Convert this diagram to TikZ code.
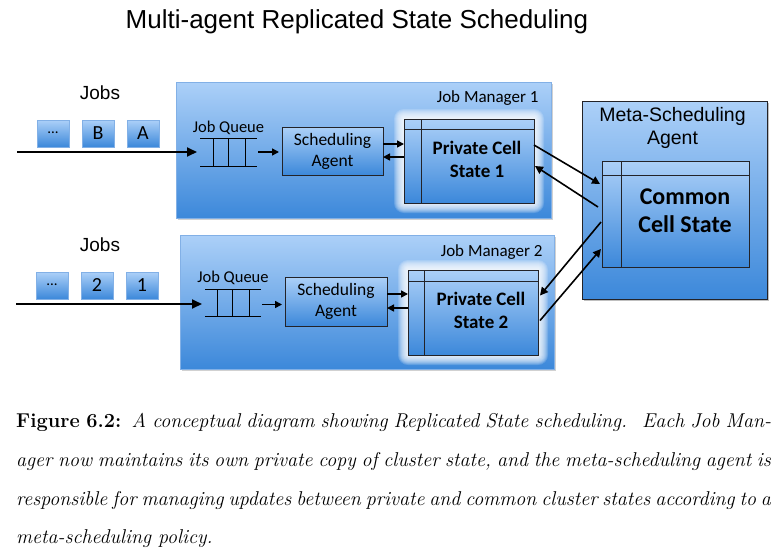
\documentclass[tikz,border=0pt]{standalone}
\usepackage{fontspec}
\newfontfamily\arialf{Liberation Sans}
\newfontfamily\calf{Carlito}
\usetikzlibrary{arrows.meta,calc}
\definecolor{bT}{RGB}{172,208,248}
\definecolor{bB}{RGB}{60,136,218}
\definecolor{jmedge}{RGB}{130,176,230}
\definecolor{dk}{RGB}{35,35,40}
\begin{document}
\begin{tikzpicture}[x=1pt,y=-1pt,
  jmbox/.style={draw=jmedge, line width=0.8pt, top color=bT, bottom color=bB, inner sep=0pt, outer sep=0pt},
  dbox/.style={draw=dk, line width=1pt, top color=bT, bottom color=bB, inner sep=0pt, outer sep=0pt},
  jobbox/.style={draw=jmedge, line width=0.6pt, top color=bT, bottom color=bB, minimum width=32pt, minimum height=27pt, inner sep=0pt, font=\calf\fontsize{20}{20}\selectfont},
  qbox/.style={inner sep=0pt, outer sep=0pt},
  qline/.style={line width=0.9pt, draw=black},
  arr/.style={-{Triangle[length=8pt,width=8pt]}, line width=1.6pt},
  inarr/.style={-{Triangle[length=10pt,width=9pt]}, line width=1.8pt},
  sarr/.style={-{Triangle[length=7pt,width=7pt]}, line width=1.5pt},
  jobslbl/.style={font=\arialf\fontsize{19}{19}\selectfont},
  qlbl/.style={font=\calf\fontsize{16.5}{16.5}\selectfont},
  salbl/.style={align=center, font=\calf\fontsize{17.5}{21}\selectfont},
  jmlbl/.style={anchor=east, font=\calf\fontsize{17}{17}\selectfont},
  pcslbl/.style={align=center, font=\calf\bfseries\fontsize{19}{23}\selectfont},
  captxt/.style={anchor=base west, inner sep=0pt, font=\fontsize{20}{24}\selectfont}
]
\useasboundingbox (0,0) rectangle (774,550);
\fill[white] (0,0) rectangle (774,550);

% title
\node[font=\arialf\fontsize{26}{26}\selectfont] (title) at (357,22) {Multi-agent Replicated State Scheduling};

% shadows of manager boxes
\fill[black, opacity=0.18] (178,84) rectangle (553,220);
\fill[black, opacity=0.18] (182,237) rectangle (556,371);
\fill[black, opacity=0.25] (584,103) rectangle (769,301);

% Job managers
\node[jmbox, minimum width=375pt, minimum height=136pt] (jm1) at (363.5,150) {};
\node[jmbox, minimum width=374pt, minimum height=134pt] (jm2) at (367,302) {};
\node[jmlbl] (jm1l) at ($(jm1.north east)+(-9,16)$) {Job Manager 1};
\node[jmlbl] (jm2l) at ($(jm2.north east)+(-8,17)$) {Job Manager 2};

% Meta-scheduling agent
\node[dbox, line width=0.9pt, minimum width=185pt, minimum height=198pt] (meta) at (674.5,200) {};
\node[align=center, font=\arialf\fontsize{19.5}{23}\selectfont] (metal) at ($(meta.north)+(-2,27)$) {Meta-Scheduling\\Agent};

% glows
\foreach \i in {1,...,10}{
  \fill[white, opacity=0.17, rounded corners=\i pt] (404-\i,119-\i) rectangle (534+\i,203+\i);
  \fill[white, opacity=0.17, rounded corners=\i pt] (408-\i,270-\i) rectangle (538+\i,355+\i);
}

% private cell states
\node[dbox, minimum width=130pt, minimum height=84pt] (pcs1) at (469,161) {};
\draw[dk, line width=1pt] ($(pcs1.north west)+(0,10)$) -- ($(pcs1.north east)+(0,10)$);
\draw[dk, line width=1pt] ($(pcs1.north west)+(17,0)$) -- ($(pcs1.south west)+(17,0)$);
\node[pcslbl] (pcs1l) at (477,159) {Private Cell\\State 1};

\node[dbox, minimum width=130pt, minimum height=85pt] (pcs2) at (473,312.5) {};
\draw[dk, line width=1pt] ($(pcs2.north west)+(0,11)$) -- ($(pcs2.north east)+(0,11)$);
\draw[dk, line width=1pt] ($(pcs2.north west)+(16,0)$) -- ($(pcs2.south west)+(16,0)$);
\node[pcslbl] (pcs2l) at (481,310) {Private Cell\\State 2};

% common cell state
\node[dbox, minimum width=147pt, minimum height=106pt] (ccs) at (675.5,214) {};
\draw[dk, line width=1pt] ($(ccs.north west)+(0,14)$) -- ($(ccs.north east)+(0,14)$);
\draw[dk, line width=1pt] ($(ccs.north west)+(19,0)$) -- ($(ccs.south west)+(19,0)$);
\node[align=center, font=\calf\bfseries\fontsize{24}{28}\selectfont] (ccsl) at (685,211) {Common\\Cell State};

% scheduling agents
\node[dbox, minimum width=101pt, minimum height=48pt] (sa1) at (332.5,151) {};
\node[salbl] (sa1l) at (sa1) {Scheduling\\Agent};
\node[dbox, minimum width=102pt, minimum height=49pt] (sa2) at (336,301.5) {};
\node[salbl] (sa2l) at (sa2) {Scheduling\\Agent};

% queues
\node[qbox, minimum width=57pt, minimum height=28pt] (q1) at (228.5,152) {};
\draw[qline] (q1.north west) -- (q1.north east);
\draw[qline] (q1.south west) -- (q1.south east);
\foreach \o in {13,28,45}{\draw[qline] ($(q1.north west)+(\o,0)$) -- ($(q1.south west)+(\o,0)$);}
\node[qlbl] (q1l) at ($(q1.north)+(0,-10)$) {Job Queue};

\node[qbox, minimum width=56pt, minimum height=27pt] (q2) at (233,302.5) {};
\draw[qline] (q2.north west) -- (q2.north east);
\draw[qline] (q2.south west) -- (q2.south east);
\foreach \o in {12,27,44}{\draw[qline] ($(q2.north west)+(\o,0)$) -- ($(q2.south west)+(\o,0)$);}
\node[qlbl] (q2l) at ($(q2.north)+(0,-11)$) {Job Queue};

% jobs
\node[jobslbl] (jobs1) at (100,93) {Jobs};
\node[jobbox] (j1a) at (53,133.5) {\fontsize{15}{15}\selectfont\raisebox{2pt}{...}};
\node[jobbox] (j1b) at (98,133.5) {B};
\node[jobbox] (j1c) at (143,133.5) {A};
\node[jobslbl] (jobs2) at (100,245) {Jobs};
\node[jobbox] (j2a) at (52,285.5) {\fontsize{15}{15}\selectfont\raisebox{2pt}{...}};
\node[jobbox] (j2b) at (97,285.5) {2};
\node[jobbox] (j2c) at (142,285.5) {1};

% input arrows
\coordinate (in1) at (17,152);
\coordinate (in2) at (16,304);
\draw[inarr, shorten >=3pt] (in1) -- (q1.west |- in1);
\draw[inarr, shorten >=3pt] (in2) -- (q2.west |- in2);

% queue -> scheduling agent
\draw[sarr, shorten <=1pt, shorten >=3pt] (q1.east) -- (sa1.west |- q1.east);
\draw[sarr, shorten <=1pt, shorten >=3pt] ($(q2.east)+(0,2)$) -- ($(sa2.west |- q2.east)+(0,2)$);

% SA <-> PCS
\coordinate (s1a) at ($(sa1.east)+(0,-7)$);
\coordinate (s1b) at ($(sa1.east)+(0,6)$);
\draw[sarr] (s1a) -- (s1a -| pcs1.west);
\draw[sarr] (s1b -| pcs1.west) -- (s1b);
\coordinate (s2a) at ($(sa2.east)+(0,-7.5)$);
\coordinate (s2b) at ($(sa2.east)+(0,6.5)$);
\draw[sarr] (s2a) -- (s2a -| pcs2.west);
\draw[sarr] (s2b -| pcs2.west) -- (s2b);

% PCS <-> CCS
\draw[arr] ($(pcs1.east)+(0,-16)$) -- ($(ccs.west)+(-2,-30)$);
\draw[arr] ($(ccs.west)+(-4,-7)$) -- ($(pcs1.east)+(1,5)$);
\draw[arr] ($(ccs.west)+(-1,8)$) -- ($(pcs2.east)+(2,-17)$);
\draw[arr] ($(pcs2.east)+(2,8)$) -- ($(ccs.west)+(-1,35)$);

% caption
\node[captxt] (c1) at (16,427) {\makebox[755pt][s]{\textbf{Figure 6.2:}\ \ \textit{A conceptual diagram showing Replicated State scheduling. \ Each Job Man-}}};
\node[captxt] (c2) at (16,466) {\makebox[755pt][s]{\textit{ager now maintains its own private copy of cluster state, and the meta-scheduling agent is}}};
\node[captxt] (c3) at (16,505) {\makebox[755pt][s]{\textit{responsible for managing updates between private and common cluster states according to a}}};
\node[captxt] (c4) at (16,543) {\textit{meta-scheduling policy.}};
\end{tikzpicture}
\end{document}
